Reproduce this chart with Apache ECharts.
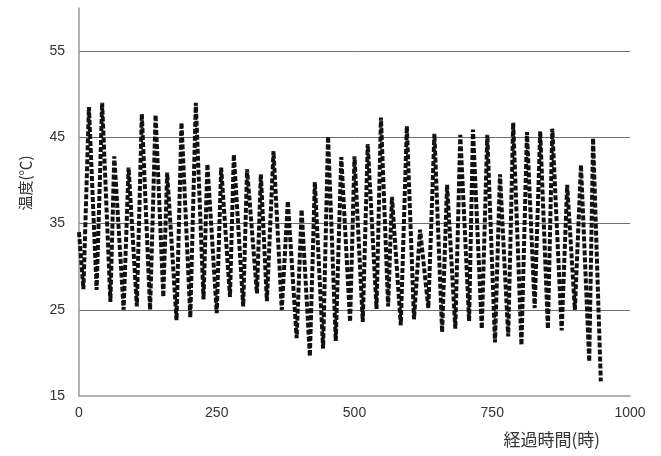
<!DOCTYPE html>
<html>
<head>
<meta charset="utf-8">
<script src="https://cdn.jsdelivr.net/npm/echarts@6/dist/echarts.min.js"></script>
<style>
  html, body { margin: 0; padding: 0; background: #fff; }
  #chart { width: 661px; height: 456px; }
</style>
</head>
<body>
<div id="chart"></div>
<script>
// elapsed hours of each turning point (troughs and peaks)
const hours = [0, 8, 18, 32, 42, 57, 64, 81, 90, 105, 114, 129, 139, 153, 160, 177, 186, 202, 212, 226,
  233, 250, 258, 274, 281, 298, 305, 323, 330, 341, 353, 368, 379, 395, 404, 419, 428, 443, 452, 466,
  476, 492, 500, 515, 524, 540, 548, 561, 568, 584, 595, 608, 619, 634, 645, 659, 668, 683, 692, 708,
  715, 731, 741, 755, 764, 779, 788, 803, 813, 827, 837, 851, 859, 876, 886, 900, 911, 926, 933, 947];
// temperature (deg C) at those points
const temps = [34, 27.4, 48.5, 27.3, 49.0, 25.9, 42.8, 25.0, 41.5, 25.4, 47.7, 25.0, 47.6, 26.5, 40.9, 23.8, 46.7, 24.1, 49.0, 26.2,
  41.9, 24.6, 41.5, 26.5, 43.0, 25.4, 41.3, 26.9, 40.7, 26.0, 43.4, 25.0, 37.6, 21.7, 36.6, 19.6, 39.8, 20.5, 45.1, 21.4,
  42.7, 23.6, 42.8, 23.6, 44.2, 25.1, 47.3, 25.4, 38.1, 23.2, 46.3, 23.9, 34.3, 25.2, 45.4, 22.4, 39.5, 22.8, 45.3, 23.7,
  45.9, 22.8, 45.3, 21.2, 40.7, 21.9, 46.7, 20.9, 45.6, 25.2, 45.7, 22.8, 46.0, 22.6, 39.5, 25.0, 41.8, 19.0, 44.9, 16.7];

const xTicks = [0, 250, 500, 750, 1000];
const yTicks = [15, 25, 35, 45, 55];

const chart = echarts.init(document.getElementById('chart'));
const font = '"Liberation Sans Narrow", "Liberation Sans", sans-serif';

const option = {
  animation: false,
  backgroundColor: '#fff',
  grid: { left: 79, right: 31, top: 8, bottom: 60 },
  xAxis: {
    type: 'value',
    min: xTicks[0],
    max: xTicks[xTicks.length - 1],
    interval: 250,
    axisLine: { show: true, lineStyle: { color: '#999', width: 1.5 } },
    axisTick: { show: false },
    splitLine: { show: false },
    axisLabel: { color: '#333', fontSize: 14, fontFamily: font, margin: 10, formatter: v => String(v) }
  },
  yAxis: {
    type: 'value',
    min: yTicks[0],
    max: 60,
    interval: 10,
    name: '温度(℃)',
    nameLocation: 'middle',
    nameGap: 46,
    nameTextStyle: { color: '#333', fontSize: 15, fontFamily: '"Noto Sans CJK JP"', padding: [0, 0, 0, 38] },
    axisLine: { show: true, lineStyle: { color: '#999', width: 1.5 } },
    axisTick: { show: false },
    splitLine: { show: true, showMinLine: false, showMaxLine: false, lineStyle: { color: '#6f6f6f', width: 1 } },
    axisLabel: { color: '#333', fontSize: 14, fontFamily: font, margin: 14, showMaxLabel: false }
  },
  graphic: [
    {
      type: 'text', right: 61, top: 431,
      style: { text: '経過時間(時)', fill: '#333', font: '17px "Noto Sans CJK JP"' }
    }
  ],
  series: [
    {
      type: 'line',
      data: hours.map((h, i) => [h, temps[i]]),
      showSymbol: false,
      lineStyle: { color: '#111', width: 4, type: [5, 2] }
    }
  ]
};

chart.setOption(option);
</script>
</body>
</html>
